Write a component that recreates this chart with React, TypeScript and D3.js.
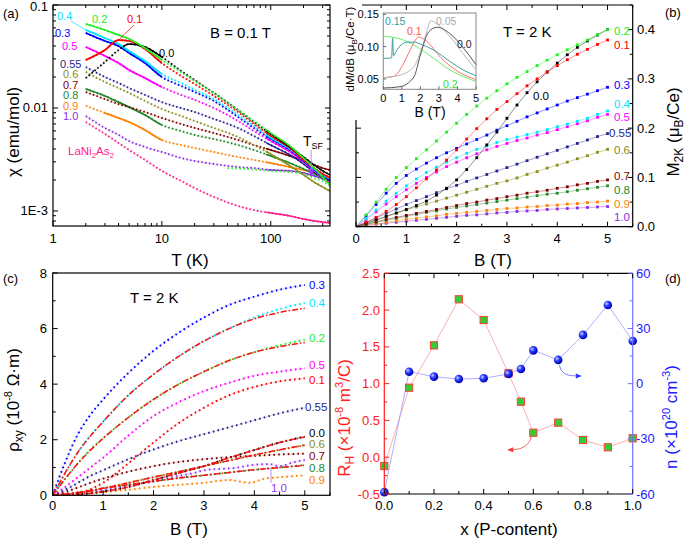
import React from "react";
import * as d3 from "d3";

const FONT = "'Liberation Sans', Arial, Helvetica, sans-serif";

// ================= Panel (a): chi(T), B = 0.1 T =================
const tempA = [2, 3, 4, 5, 7, 10, 15, 20, 30, 50, 70, 100, 150, 200, 250, 300, 350];
const chiX00 = [0.0195, 0.028, 0.0366, 0.0418, 0.0391, 0.0313, 0.0229, 0.0187, 0.014, 0.00957, 0.00731, 0.0056, 0.00418, 0.00334, 0.0028, 0.00245, 0.00224];
const chiX01 = [0.0292, 0.0366, 0.0457, 0.0447, 0.0374, 0.0273, 0.0205, 0.0171, 0.0131, 0.00914, 0.007, 0.00535, 0.00409, 0.00313, 0.00261, 0.00229, 0.00209];
const chiX02 = [0.0654, 0.0572, 0.0511, 0.0468, 0.0383, 0.0292, 0.0224, 0.0183, 0.014, 0.00957, 0.00748, 0.00572, 0.00428, 0.00327, 0.00261, 0.00214, 0.00179];
const chiX03 = [0.0535, 0.0447, 0.04, 0.0342, 0.0273, 0.02, 0.0164, 0.0143, 0.0117, 0.00818, 0.0064, 0.005, 0.00391, 0.00306, 0.0025, 0.00219, 0.002];
const chiX04 = [0.0572, 0.0478, 0.0418, 0.0357, 0.0286, 0.0214, 0.0175, 0.015, 0.0122, 0.00855, 0.00669, 0.00512, 0.004, 0.00313, 0.00256, 0.00224, 0.00205];
const chiX05 = [0.0391, 0.032, 0.0273, 0.0234, 0.0195, 0.016, 0.0134, 0.012, 0.01, 0.00748, 0.00598, 0.00478, 0.00374, 0.00299, 0.00245, 0.00214, 0.00191];
const chiX055 = [0.025, 0.02, 0.0175, 0.0156, 0.0134, 0.0114, 0.01, 0.00914, 0.00782, 0.0064, 0.00535, 0.00437, 0.0035, 0.00286, 0.00239, 0.00214, 0.00196];
const chiX06 = [0.0224, 0.0179, 0.0156, 0.014, 0.0117, 0.00978, 0.00836, 0.00748, 0.0064, 0.00523, 0.00437, 0.00357, 0.00274, 0.00224, 0.00191, 0.00171, 0.00156];
const chiX07 = [0.0143, 0.0122, 0.0109, 0.0102, 0.00914, 0.008, 0.007, 0.0064, 0.00572, 0.00489, 0.00437, 0.00391, 0.00342, 0.00306, 0.0028, 0.00261, 0.0025];
const chiX08 = [0.0153, 0.0131, 0.0114, 0.0102, 0.00855, 0.00684, 0.00598, 0.00547, 0.005, 0.00437, 0.00391, 0.00342, 0.00292, 0.00256, 0.00229, 0.00209, 0.00191];
const chiX09 = [0.0105, 0.00894, 0.008, 0.00731, 0.00611, 0.00489, 0.00437, 0.00409, 0.00374, 0.00334, 0.00313, 0.00292, 0.00266, 0.0025, 0.00234, 0.00224, 0.00214];
const chiX10 = [0.00836, 0.0064, 0.00547, 0.00478, 0.00418, 0.00374, 0.00327, 0.00306, 0.00286, 0.00267, 0.00261, 0.0025, 0.00245, 0.00234, 0.00219, 0.00205, 0.00191];
const chiLaNi = [0.00731, 0.0056, 0.00457, 0.00391, 0.00313, 0.00245, 0.00196, 0.00167, 0.00137, 0.00112, 0.00102, 0.000957, 0.000894, 0.000836, 0.0008, 0.000782, 0.000764];
const tempLime = [40, 60, 100, 150, 200, 250, 300, 350];
const chiLime = [0.00261, 0.00256, 0.00245, 0.00239, 0.00229, 0.00209, 0.00196, 0.00175];

// ================= Panel (b): M(B) at 2 K =================
const fieldB = [0, 0.2, 0.4, 0.6, 0.8, 1.0, 1.2, 1.4, 1.6, 1.8, 2.0, 2.2, 2.4, 2.6, 2.8, 3.0, 3.2, 3.4, 3.6, 3.8, 4.0, 4.2, 4.4, 4.6, 4.8, 5.0];
const magB00 = [0, 0.007, 0.014, 0.021, 0.028, 0.035, 0.043, 0.052, 0.064, 0.078, 0.095, 0.116, 0.14, 0.166, 0.192, 0.22, 0.247, 0.272, 0.294, 0.314, 0.332, 0.349, 0.364, 0.377, 0.389, 0.4];
const magB01 = [0, 0.009, 0.019, 0.031, 0.045, 0.061, 0.079, 0.097, 0.115, 0.135, 0.156, 0.178, 0.199, 0.219, 0.238, 0.254, 0.27, 0.286, 0.3, 0.314, 0.327, 0.339, 0.35, 0.36, 0.37, 0.379];
const magB02 = [0, 0.024, 0.05, 0.076, 0.1, 0.12, 0.138, 0.156, 0.174, 0.192, 0.21, 0.228, 0.245, 0.261, 0.276, 0.29, 0.303, 0.315, 0.327, 0.338, 0.349, 0.359, 0.369, 0.379, 0.39, 0.4];
const magB03 = [0, 0.022, 0.045, 0.068, 0.088, 0.104, 0.117, 0.129, 0.14, 0.15, 0.159, 0.168, 0.177, 0.186, 0.196, 0.205, 0.214, 0.223, 0.231, 0.239, 0.247, 0.255, 0.262, 0.269, 0.276, 0.283];
const magB04 = [0, 0.016, 0.034, 0.052, 0.068, 0.083, 0.097, 0.11, 0.121, 0.131, 0.14, 0.149, 0.157, 0.164, 0.171, 0.177, 0.182, 0.187, 0.192, 0.197, 0.203, 0.208, 0.214, 0.22, 0.228, 0.235];
const magB05 = [0, 0.014, 0.03, 0.046, 0.061, 0.075, 0.088, 0.1, 0.111, 0.122, 0.131, 0.14, 0.148, 0.156, 0.163, 0.169, 0.175, 0.18, 0.186, 0.191, 0.197, 0.203, 0.209, 0.215, 0.222, 0.228];
const magB055 = [0, 0.008, 0.018, 0.027, 0.036, 0.045, 0.053, 0.061, 0.069, 0.077, 0.084, 0.092, 0.099, 0.106, 0.113, 0.12, 0.127, 0.134, 0.141, 0.148, 0.155, 0.162, 0.169, 0.176, 0.183, 0.189];
const magB06 = [0, 0.006, 0.013, 0.02, 0.027, 0.034, 0.04, 0.046, 0.052, 0.058, 0.064, 0.07, 0.076, 0.082, 0.088, 0.093, 0.099, 0.106, 0.112, 0.119, 0.125, 0.131, 0.138, 0.144, 0.151, 0.157];
const magB07 = [0, 0.005, 0.01, 0.015, 0.019, 0.023, 0.027, 0.031, 0.035, 0.039, 0.043, 0.047, 0.05, 0.054, 0.057, 0.061, 0.064, 0.068, 0.071, 0.074, 0.078, 0.081, 0.085, 0.088, 0.092, 0.095];
const magB08 = [0, 0.004, 0.009, 0.013, 0.017, 0.021, 0.025, 0.029, 0.032, 0.036, 0.039, 0.042, 0.045, 0.048, 0.051, 0.054, 0.057, 0.06, 0.063, 0.066, 0.068, 0.071, 0.074, 0.077, 0.08, 0.083];
const magB09 = [0, 0.003, 0.006, 0.009, 0.012, 0.015, 0.017, 0.02, 0.022, 0.025, 0.027, 0.029, 0.031, 0.033, 0.035, 0.037, 0.038, 0.04, 0.041, 0.043, 0.044, 0.046, 0.047, 0.049, 0.05, 0.052];
const magB10 = [0, 0.002, 0.005, 0.007, 0.009, 0.011, 0.013, 0.015, 0.017, 0.019, 0.021, 0.023, 0.024, 0.026, 0.028, 0.029, 0.031, 0.032, 0.033, 0.035, 0.036, 0.037, 0.038, 0.039, 0.04, 0.041];

// inset: dM/dB
const insB015 = [0, 0.3, 0.45, 0.5, 0.55, 0.7, 0.9, 1.3, 1.65, 2.0, 2.7, 3.6, 4.3, 5.0];
const insD015 = [0.082, 0.082, 0.083, 0.113, 0.086, 0.093, 0.101, 0.107, 0.107, 0.104, 0.095, 0.077, 0.064, 0.055];
const insB01 = [0, 0.55, 1.1, 1.4, 1.65, 1.9, 2.35, 3.1, 4.0, 5.0];
const insD01 = [0.052, 0.054, 0.074, 0.092, 0.106, 0.115, 0.108, 0.083, 0.062, 0.049];
const insB02 = [0, 0.9, 1.8, 2.7, 3.6, 5.0];
const insD02 = [0.116, 0.112, 0.1, 0.082, 0.064, 0.046];
const insB005 = [0, 0.9, 1.65, 2.1, 2.35, 2.55, 2.8, 3.6, 4.5, 5.0];
const insD005 = [0.052, 0.056, 0.069, 0.1, 0.124, 0.14, 0.137, 0.115, 0.082, 0.064];
const insB00 = [0, 0.9, 1.65, 2.0, 2.45, 2.9, 3.6, 4.4, 5.0];
const insD00 = [0.036, 0.038, 0.053, 0.087, 0.123, 0.13, 0.12, 0.095, 0.072];

// ================= Panel (c): rho_xy(B) at 2 K =================
const fieldC = [0, 0.25, 0.5, 0.75, 1, 1.5, 2, 2.5, 3, 3.5, 4, 4.5, 5];
const rho03 = [0, 1.2, 2.2, 2.9, 3.45, 4.4, 5.2, 5.85, 6.4, 6.85, 7.15, 7.4, 7.57];
const rho04 = [0, 0.8, 1.55, 2.15, 2.65, 3.6, 4.35, 5.0, 5.55, 6.0, 6.4, 6.7, 6.92];
const rho02 = [0, 0.6, 1.15, 1.65, 2.05, 2.8, 3.45, 4.0, 4.45, 4.85, 5.15, 5.4, 5.6];
const rho05 = [0, 0.3, 0.65, 1.0, 1.35, 2.15, 2.85, 3.35, 3.75, 4.05, 4.3, 4.45, 4.57];
const rho01 = [0, 0.02, 0.08, 0.22, 0.45, 1.15, 1.9, 2.6, 3.15, 3.6, 3.9, 4.1, 4.21];
const rho055 = [0, 0.2, 0.45, 0.7, 0.9, 1.3, 1.65, 1.95, 2.2, 2.45, 2.7, 2.95, 3.15];
const rho00 = [0, 0.0, 0.03, 0.07, 0.13, 0.3, 0.55, 0.8, 1.05, 1.35, 1.63, 1.9, 2.11];
const rho06 = [0, 0.03, 0.08, 0.15, 0.25, 0.45, 0.65, 0.85, 1.05, 1.25, 1.45, 1.63, 1.81];
const rho07 = [0, 0.12, 0.28, 0.45, 0.6, 0.85, 1.05, 1.2, 1.3, 1.37, 1.42, 1.47, 1.5];
const rho08 = [0, 0.05, 0.1, 0.17, 0.25, 0.38, 0.5, 0.62, 0.72, 0.82, 0.92, 1.0, 1.09];
const field10C = [0, 0.25, 0.5, 0.75, 1, 1.5, 2, 2.5, 2.8, 3, 3.3, 3.6, 4, 4.3, 4.5, 4.8, 5];
const rho10 = [0, 0.05, 0.1, 0.13, 0.18, 0.35, 0.5, 0.7, 0.8, 0.9, 0.95, 0.98, 1.1, 1.12, 1.05, 1.2, 1.27];
const field09C = [0, 0.5, 1, 1.5, 2, 2.5, 3, 3.5, 3.9, 4.2, 4.5, 5];
const rho09 = [0, 0.05, 0.12, 0.2, 0.3, 0.38, 0.45, 0.55, 0.45, 0.6, 0.65, 0.72];
const fieldFit = [0, 0.5, 1, 1.5, 2, 2.5, 3, 3.5, 4, 4.5, 5];
const fit04 = [0, 1.55, 2.65, 3.6, 4.35, 5.0, 5.55, 6.0, 6.35, 6.58, 6.73];
const fit02 = [0, 1.15, 2.05, 2.8, 3.45, 4.0, 4.45, 4.85, 5.15, 5.35, 5.5];
const fit00 = [0, 0.03, 0.13, 0.3, 0.55, 0.8, 1.05, 1.35, 1.63, 1.9, 2.1];
const fit06 = [0, 0.08, 0.25, 0.45, 0.65, 0.85, 1.05, 1.25, 1.45, 1.64, 1.8];
const fit08 = [0, 0.1, 0.25, 0.38, 0.5, 0.62, 0.72, 0.82, 0.92, 1.0, 1.08];

// ================= Panel (d): R_H and n vs x =================
const xP = [0, 0.1, 0.2, 0.3, 0.4, 0.5, 0.55, 0.6, 0.7, 0.8, 0.9, 1.0];
const hallRH = [-0.12, 0.945, 1.52, 2.147, 1.865, 1.14, 0.755, 0.333, 0.47, 0.234, 0.135, 0.257];
const carrierN = [-59, 6.5, 3.8, 2.5, 2.9, 5.3, 8.0, 18.1, 12.9, 26.5, 42.8, 23.2];

// ---------- helpers ----------
type Tk = { v: number; major: boolean };
function linTicks(start: number, end: number, step: number, majorEvery: number): Tk[] {
  const out: Tk[] = [];
  const n = Math.round((end - start) / step);
  for (let i = 0; i <= n; i++) {
    const v = +(start + i * step).toFixed(6);
    const r = v / majorEvery;
    out.push({ v, major: Math.abs(r - Math.round(r)) < 1e-6 });
  }
  return out;
}
function logTicks(lo: number, hi: number): Tk[] {
  const out: Tk[] = [];
  for (let e = -5; e <= 3; e++) {
    const d = Math.pow(10, e);
    for (let m = 1; m <= 9; m++) {
      const v = m * d;
      if (v >= lo * 0.9999 && v <= hi * 1.0001) out.push({ v, major: m === 1 });
    }
  }
  return out;
}

function XTicks({ ticks, sc, y, dir, len = 5, minor = 3, color = "#000" }: any) {
  return (
    <g stroke={color} strokeWidth={1}>
      {ticks.map((t: Tk, i: number) => (
        <line key={i} x1={sc(t.v)} x2={sc(t.v)} y1={y} y2={y + dir * (t.major ? len : minor)} />
      ))}
    </g>
  );
}
function YTicks({ ticks, sc, x, dir, len = 5, minor = 3, color = "#000" }: any) {
  return (
    <g stroke={color} strokeWidth={1}>
      {ticks.map((t: Tk, i: number) => (
        <line key={i} y1={sc(t.v)} y2={sc(t.v)} x1={x} x2={x + dir * (t.major ? len : minor)} />
      ))}
    </g>
  );
}

function lineGen(xs: number[], xsc: any, ysc: any, curve: any = d3.curveMonotoneX) {
  return d3
    .line<number>()
    .x((_, i) => xsc(xs[i]))
    .y((d) => ysc(d))
    .curve(curve);
}

// ================= Panel A =================
function PanelA() {
  const L = 53, R = 330, T = 5, B = 226;
  const x = d3.scaleLog().domain([1, 350]).range([L, R]);
  const y = d3.scaleLog().domain([7.15e-4, 0.1]).range([B, T]);
  const g = lineGen(tempA, x, y);
  const gl = lineGen(tempLime, x, y);
  const series = [
    { key: "La", color: "#ff1a8c", chi: chiLaNi, dense: null },
    { key: "1.0", color: "#8a2be2", chi: chiX10, dense: null },
    { key: "0.9", color: "#ff8000", chi: chiX09, dense: [3, 10] },
    { key: "0.8", color: "#22882a", chi: chiX08, dense: [2, 10] },
    { key: "0.7", color: "#800000", chi: chiX07, dense: null },
    { key: "0.6", color: "#8c8c1a", chi: chiX06, dense: null },
    { key: "0.55", color: "#24248f", chi: chiX055, dense: null },
    { key: "0.5", color: "#ff00ff", chi: chiX05, dense: [2, 10] },
    { key: "0.3", color: "#0000ff", chi: chiX03, dense: [2, 10] },
    { key: "0.4", color: "#00e5ff", chi: chiX04, dense: [2, 10] },
    { key: "0.1", color: "#ff0000", chi: chiX01, dense: [2, 10] },
    { key: "0.0", color: "#000000", chi: chiX00, dense: [4.5, 10] },
    { key: "0.2", color: "#22ee22", chi: chiX02, dense: [2, 10] },
  ];
  const xt = logTicks(1, 350);
  const yt = logTicks(7.15e-4, 0.1);
  const tsf = x(235);
  return (
    <g>
      <defs>
        <clipPath id="clipAhi">
          <rect x={x(90)} y={0} width={R - x(90) + 2} height={B} />
        </clipPath>
        {series.map((s, i) =>
          s.dense ? (
            <clipPath id={`clipA${i}`} key={i}>
              <rect x={x(s.dense[0]) - 1} y={0} width={x(s.dense[1]) - x(s.dense[0]) + 1} height={B} />
            </clipPath>
          ) : null
        )}
        <clipPath id="clipAframe">
          <rect x={L} y={T} width={R - L} height={B - T} />
        </clipPath>
      </defs>
      <g clipPath="url(#clipAframe)">
        {series.map((s, i) => (
          <g key={s.key} fill="none" stroke={s.color}>
            <path d={g(s.chi) as string} strokeWidth={0.5} opacity={0.45} />
            <path d={g(s.chi) as string} strokeWidth={1.9} strokeDasharray="1.5 2.3" />
            {s.dense ? <path d={g(s.chi) as string} strokeWidth={1.7} clipPath={`url(#clipA${i})`} /> : null}
            <path d={g(s.chi) as string} strokeWidth={1.4} clipPath="url(#clipAhi)" />
          </g>
        ))}
        <path d={gl(chiLime) as string} fill="none" stroke="#33ee33" strokeWidth={2} strokeDasharray="1.5 2.5" />
      </g>
      {/* leader lines */}
      <line x1={71} y1={21} x2={x(2)} y2={y(chiX04[0])} stroke="#00e5ff" strokeWidth={0.7} />
      <line x1={134} y1={25} x2={x(tempA[2])} y2={y(chiX01[2])} stroke="#ff0000" strokeWidth={0.7} />
      {/* T_SF arrow */}
      <line x1={tsf} y1={150} x2={tsf} y2={171} stroke="#cc88ff" strokeWidth={1} />
      <polygon points={`${tsf - 3},${169} ${tsf + 3},${169} ${tsf},${177}`} fill="#9933ff" />
      {/* frame & ticks */}
      <rect x={L} y={T} width={R - L} height={B - T} fill="none" stroke="#000" strokeWidth={1.2} />
      <XTicks ticks={xt} sc={x} y={B} dir={-1} />
      <XTicks ticks={xt} sc={x} y={T} dir={1} />
      <YTicks ticks={yt} sc={y} x={L} dir={1} />
      <YTicks ticks={yt} sc={y} x={R} dir={-1} />
      <g fontSize={13} textAnchor="middle" fill="#000">
        {[1, 10, 100].map((v) => (
          <text key={v} x={x(v)} y={243}>{v}</text>
        ))}
      </g>
      <g fontSize={13} textAnchor="end" fill="#000">
        <text x={48} y={y(0.1) + 6}>0.1</text>
        <text x={48} y={y(0.01) + 4.5}>0.01</text>
        <text x={48} y={y(0.001) + 4.5}>1E-3</text>
      </g>
      <text x={190} y={266} fontSize={17} textAnchor="middle">T (K)</text>
      <text transform="translate(19,132) rotate(-90)" fontSize={17} textAnchor="middle">χ (emu/mol)</text>
      <text x={3} y={18} fontSize={13}>(a)</text>
      <text x={210} y={38} fontSize={15}>B = 0.1 T</text>
      <text x={303} y={146} fontSize={14}>T<tspan fontSize={9} dy={3}>SF</tspan></text>
      <g fontSize={11}>
        <text x={57} y={20} fill="#00e5ff">0.4</text>
        <text x={92} y={23} fill="#22ee22">0.2</text>
        <text x={127} y={23} fill="#ff0000">0.1</text>
        <text x={55} y={37} fill="#0000ff">0.3</text>
        <text x={62} y={50} fill="#ff00ff">0.5</text>
        <text x={159} y={57} fill="#000">0.0</text>
        <text x={60} y={67.5} fill="#24248f">0.55</text>
        <text x={63} y={78} fill="#8c8c1a">0.6</text>
        <text x={63} y={88.5} fill="#800000">0.7</text>
        <text x={63} y={99} fill="#22882a">0.8</text>
        <text x={63} y={109.5} fill="#ff8000">0.9</text>
        <text x={63} y={120} fill="#8a2be2">1.0</text>
      </g>
      <text x={68} y={155} fontSize={11.5} fill="#ff1a8c">
        LaNi<tspan fontSize={8} dy={3}>2</tspan><tspan dy={-3}>As</tspan><tspan fontSize={8} dy={3}>2</tspan>
      </text>
    </g>
  );
}

// ================= Panel B =================
function PanelB() {
  const L = 356, R = 632.7, T = 5, B = 226.7;
  const x = d3.scaleLinear().domain([0, 5.5]).range([L, R]);
  const y = d3.scaleLinear().domain([0, 0.45]).range([B, T]);
  const g = lineGen(fieldB, x, y, d3.curveLinear);
  const series = [
    { color: "#8a2be2", m: magB10 },
    { color: "#ff8000", m: magB09 },
    { color: "#22882a", m: magB08 },
    { color: "#800000", m: magB07 },
    { color: "#8c8c1a", m: magB06 },
    { color: "#24248f", m: magB055 },
    { color: "#ff00ff", m: magB05 },
    { color: "#00e5ff", m: magB04 },
    { color: "#0000ff", m: magB03 },
    { color: "#000000", m: magB00 },
    { color: "#ff0000", m: magB01 },
    { color: "#22ee22", m: magB02 },
  ];
  const xt = linTicks(0, 5.5, 0.5, 1);
  const yt = linTicks(0, 0.45, 0.05, 0.1);
  const ytLeft = linTicks(0, 0.2, 0.05, 0.1);
  // inset
  const iL = 383.3, iR = 476, iT = 13, iB = 89.3;
  const xi = d3.scaleLinear().domain([0, 5]).range([iL, iR]);
  const yi = d3.scaleLinear().domain([0.034, 0.152]).range([iB, iT]);
  const inset = [
    { b: insB02, d: insD02, c: "#66ee66" },
    { b: insB01, d: insD01, c: "#ff7070" },
    { b: insB015, d: insD015, c: "#3a9d9d" },
    { b: insB005, d: insD005, c: "#b8b8b8" },
    { b: insB00, d: insD00, c: "#555555" },
  ];
  return (
    <g>
      {series.map((s, i) => (
        <g key={i}>
          <path d={g(s.m) as string} fill="none" stroke={s.color} strokeWidth={0.8} opacity={0.55} />
          {s.m.map((v, j) =>
            j === 0 ? null : (
              <rect key={j} x={x(fieldB[j]) - 1.4} y={y(v) - 1.4} width={2.8} height={2.8} fill={s.color} />
            )
          )}
        </g>
      ))}
      {/* frame */}
      <g stroke="#000" strokeWidth={1.2}>
        <line x1={362} y1={T} x2={R} y2={T} />
        <line x1={R} y1={T} x2={R} y2={B} />
        <line x1={L} y1={B} x2={R} y2={B} />
        <line x1={L} y1={120} x2={L} y2={B} />
      </g>
      <XTicks ticks={xt} sc={x} y={B} dir={-1} />
      <XTicks ticks={xt.filter((t) => x(t.v) > 363)} sc={x} y={T} dir={1} />
      <YTicks ticks={yt} sc={y} x={R} dir={-1} />
      <YTicks ticks={ytLeft} sc={y} x={L} dir={1} />
      <g fontSize={13} textAnchor="middle">
        {[0, 1, 2, 3, 4, 5].map((v) => (
          <text key={v} x={x(v)} y={243}>{v}</text>
        ))}
      </g>
      <g fontSize={13}>
        {[0, 0.1, 0.2, 0.3, 0.4].map((v) => (
          <text key={v} x={637} y={y(v) + 4.5}>{v.toFixed(1)}</text>
        ))}
      </g>
      <text x={493} y={266} fontSize={17} textAnchor="middle">B (T)</text>
      <text transform="translate(679,132) rotate(-90)" fontSize={17} textAnchor="middle">
        M<tspan fontSize={12} dy={4}>2K</tspan><tspan dy={-4}> (μ</tspan><tspan fontSize={12} dy={4}>B</tspan><tspan dy={-4}>/Ce)</tspan>
      </text>
      <text x={665} y={17} fontSize={13}>(b)</text>
      <text x={503} y={37} fontSize={15}>T = 2 K</text>
      <g fontSize={11.5}>
        <text x={614} y={35} fill="#22ee22">0.2</text>
        <text x={614} y={48.5} fill="#ff0000">0.1</text>
        <text x={614} y={89} fill="#0000ff">0.3</text>
        <text x={614} y={108} fill="#00e5ff">0.4</text>
        <text x={614} y={121} fill="#ff00ff">0.5</text>
        <text x={609} y={137} fill="#24248f">0.55</text>
        <text x={614} y={154} fill="#8c8c1a">0.6</text>
        <text x={614} y={180} fill="#800000">0.7</text>
        <text x={614} y={193.5} fill="#22882a">0.8</text>
        <text x={614} y={207.5} fill="#ff8000">0.9</text>
        <text x={614} y={221} fill="#8a2be2">1.0</text>
        <text x={533} y={100} fill="#000">0.0</text>
      </g>
      {/* inset */}
      <rect x={iL} y={iT} width={iR - iL} height={iB - iT} fill="#fff" stroke="#888" strokeWidth={1} />
      {inset.map((s, i) => (
        <path key={i} d={lineGen(s.b, xi, yi)(s.d) as string} fill="none" stroke={s.c} strokeWidth={1} />
      ))}
      <XTicks ticks={linTicks(0, 5, 1, 1)} sc={xi} y={iB} dir={-1} len={3} color="#666" />
      <YTicks ticks={linTicks(0.05, 0.15, 0.05, 0.05)} sc={yi} x={iL} dir={1} len={3} color="#666" />
      <g fontSize={11} textAnchor="middle">
        {[0, 1, 2, 3, 4, 5].map((v) => (
          <text key={v} x={xi(v)} y={102}>{v}</text>
        ))}
      </g>
      <g fontSize={11} textAnchor="end">
        {[0.05, 0.1, 0.15].map((v) => (
          <text key={v} x={379} y={yi(v) + 4}>{v.toFixed(2)}</text>
        ))}
      </g>
      <text x={430} y={117} fontSize={14} textAnchor="middle">B (T)</text>
      <text transform="translate(354,49) rotate(-90)" fontSize={11.5} textAnchor="middle">
        dM/dB (μ<tspan fontSize={8} dy={3}>B</tspan><tspan dy={-3}>/Ce·T)</tspan>
      </text>
      <g fontSize={10.5}>
        <text x={385} y={25} fill="#3a9d9d">0.15</text>
        <text x={407} y={35} fill="#ff5050">0.1</text>
        <text x={436} y={25} fill="#aaaaaa">0.05</text>
        <text x={457} y={48} fill="#222">0.0</text>
        <text x={443} y={88} fill="#33dd33">0.2</text>
      </g>
    </g>
  );
}

// ================= Panel C =================
function PanelC() {
  const L = 52.7, R = 330, T = 273, B = 495.3;
  const x = d3.scaleLinear().domain([0, 5.5]).range([L, R]);
  const y = d3.scaleLinear().domain([0, 8]).range([B, T]);
  const data = [
    { r: rho09, f: field09C, c: "#ff8000" },
    { r: rho10, f: field10C, c: "#9933ff" },
    { r: rho08, f: fieldC, c: "#22882a" },
    { r: rho07, f: fieldC, c: "#800000" },
    { r: rho06, f: fieldC, c: "#8c8c1a" },
    { r: rho00, f: fieldC, c: "#000000" },
    { r: rho055, f: fieldC, c: "#24248f" },
    { r: rho01, f: fieldC, c: "#ff0000" },
    { r: rho05, f: fieldC, c: "#ff00ff" },
    { r: rho02, f: fieldC, c: "#22ee22" },
    { r: rho04, f: fieldC, c: "#00e5ff" },
    { r: rho03, f: fieldC, c: "#0000ff" },
  ];
  const fits = [fit04, fit02, fit00, fit06, fit08];
  const gf = lineGen(fieldFit, x, y);
  const xt = linTicks(0, 5.5, 0.5, 1);
  const yt = linTicks(0, 8, 1, 2);
  return (
    <g>
      <defs>
        <clipPath id="clipC">
          <rect x={L} y={T} width={R - L} height={B - T} />
        </clipPath>
      </defs>
      <g clipPath="url(#clipC)">
        {data.map((s, i) => (
          <g key={i} fill="none" stroke={s.c}>
            <path d={lineGen(s.f, x, y)(s.r) as string} strokeWidth={0.5} opacity={0.35} />
            <path d={lineGen(s.f, x, y)(s.r) as string} strokeWidth={2} strokeDasharray="1.6 3.2" />
          </g>
        ))}
        {fits.map((f, i) => (
          <path key={i} d={gf(f) as string} fill="none" stroke="#ff1010" strokeWidth={1.5} strokeDasharray="6 2 1.6 2" />
        ))}
      </g>
      <line x1={x(4.33)} y1={y(0.45)} x2={x(4.33)} y2={y(1.02)} stroke="#b070ff" strokeWidth={0.8} />
      <rect x={L} y={T} width={R - L} height={B - T} fill="none" stroke="#000" strokeWidth={1.2} />
      <XTicks ticks={xt} sc={x} y={B} dir={-1} />
      <YTicks ticks={yt} sc={y} x={L} dir={1} />
      <g fontSize={13} textAnchor="middle">
        {[0, 1, 2, 3, 4, 5].map((v) => (
          <text key={v} x={x(v)} y={510}>{v}</text>
        ))}
      </g>
      <g fontSize={13} textAnchor="end">
        {[0, 2, 4, 6, 8].map((v) => (
          <text key={v} x={47} y={y(v) + 4.5}>{v}</text>
        ))}
      </g>
      <text x={189} y={535} fontSize={17} textAnchor="middle">B (T)</text>
      <text transform="translate(19,400) rotate(-90)" fontSize={17} textAnchor="middle">
        ρ<tspan fontSize={12} dy={4}>xy</tspan><tspan dy={-4}> (10</tspan><tspan fontSize={11} dy={-7}>-8</tspan><tspan dy={7}> Ω·m)</tspan>
      </text>
      <text x={3} y={283} fontSize={13}>(c)</text>
      <text x={130} y={303} fontSize={15}>T = 2 K</text>
      <g fontSize={11.5}>
        <text x={309} y={289} fill="#0000ff">0.3</text>
        <text x={309} y={307} fill="#00e5ff">0.4</text>
        <text x={309} y={342} fill="#22ee22">0.2</text>
        <text x={309} y={369} fill="#ff00ff">0.5</text>
        <text x={309} y={384} fill="#ff0000">0.1</text>
        <text x={305} y={411} fill="#24248f">0.55</text>
        <text x={309} y={437} fill="#000">0.0</text>
        <text x={309} y={448} fill="#8c8c1a">0.6</text>
        <text x={309} y={460} fill="#800000">0.7</text>
        <text x={309} y={472} fill="#22882a">0.8</text>
        <text x={309} y={484} fill="#ff8000">0.9</text>
        <text x={271} y={492} fill="#9933ff">1.0</text>
      </g>
    </g>
  );
}

// ================= Panel D =================
function PanelD() {
  const L = 384.3, R = 632.7, T = 273.3, B = 494;
  const x = d3.scaleLinear().domain([0, 1]).range([L, R]);
  const yl = d3.scaleLinear().domain([-0.5, 2.5]).range([B, T]);
  const yr = d3.scaleLinear().domain([-60, 60]).range([B, T]);
  const gRH = lineGen(xP, x, yl, d3.curveLinear);
  const gN = lineGen(xP, x, yr, d3.curveLinear);
  const xt = linTicks(0, 1, 0.1, 0.2);
  const ylt = linTicks(-0.5, 2.5, 0.25, 0.5);
  const yrt = linTicks(-60, 60, 15, 30);
  const redArrow = `M${x(0.593)},${yl(0.3)} Q${x(0.585)},${yl(0.11)} ${x(0.515)},${yl(0.1)}`;
  const blueArrow = `M${x(0.705)},${yr(10)} Q${x(0.712)},${yr(3.8)} ${x(0.775)},${yr(4.2)}`;
  return (
    <g>
      <defs>
        <radialGradient id="ball" cx="35%" cy="35%" r="65%">
          <stop offset="0%" stopColor="#c8ccff" />
          <stop offset="45%" stopColor="#2a3aff" />
          <stop offset="100%" stopColor="#0000b0" />
        </radialGradient>
      </defs>
      <path d={gRH(hallRH) as string} fill="none" stroke="#ff9a9a" strokeWidth={0.8} />
      <path d={gN(carrierN) as string} fill="none" stroke="#9a9aff" strokeWidth={0.8} />
      <path d={redArrow} fill="none" stroke="#ff5555" strokeWidth={0.9} />
      <polygon points={`${x(0.515) - 5},${yl(0.1)} ${x(0.515) + 1},${yl(0.1) - 2.5} ${x(0.515) + 1},${yl(0.1) + 2.5}`} fill="#ff3333" />
      <path d={blueArrow} fill="none" stroke="#6f6fff" strokeWidth={0.9} />
      <polygon points={`${x(0.775) + 5},${yr(4.2)} ${x(0.775) - 1},${yr(4.2) - 2.5} ${x(0.775) - 1},${yr(4.2) + 2.5}`} fill="#3333ff" />
      {hallRH.map((v, i) => (
        <rect key={i} x={x(xP[i]) - 3.6} y={yl(v) - 3.6} width={7.2} height={7.2} fill="#33cc33" stroke="#ff3b3b" strokeWidth={1} />
      ))}
      {carrierN.map((v, i) => (
        <circle key={i} cx={x(xP[i])} cy={yr(v)} r={4.3} fill="url(#ball)" />
      ))}
      {/* frame */}
      <line x1={L} y1={T} x2={R} y2={T} stroke="#000" strokeWidth={1.2} />
      <line x1={L} y1={B} x2={R} y2={B} stroke="#000" strokeWidth={1.2} />
      <line x1={L} y1={T} x2={L} y2={B} stroke="#ff2020" strokeWidth={1.2} />
      <line x1={R} y1={T} x2={R} y2={B} stroke="#7070ff" strokeWidth={1.2} />
      <XTicks ticks={xt} sc={x} y={B} dir={-1} />
      <XTicks ticks={xt} sc={x} y={T} dir={1} />
      <YTicks ticks={ylt} sc={yl} x={L} dir={1} color="#ff2020" />
      <YTicks ticks={yrt} sc={yr} x={R} dir={-1} color="#7070ff" />
      <g fontSize={13} textAnchor="middle">
        {[0, 0.2, 0.4, 0.6, 0.8, 1.0].map((v) => (
          <text key={v} x={x(v)} y={510}>{v.toFixed(1)}</text>
        ))}
      </g>
      <g fontSize={13} textAnchor="end" fill="#ff2020">
        {[-0.5, 0, 0.5, 1, 1.5, 2, 2.5].map((v) => (
          <text key={v} x={380} y={yl(v) + 4.5}>{v.toFixed(1)}</text>
        ))}
      </g>
      <g fontSize={13} fill="#2020ff">
        {[-60, -30, 0, 30, 60].map((v) => (
          <text key={v} x={636} y={yr(v) + 4.5}>{v}</text>
        ))}
      </g>
      <text x={509} y={535} fontSize={17} textAnchor="middle">x (P-content)</text>
      <text transform="translate(350,418) rotate(-90)" fontSize={17} textAnchor="middle" fill="#ff2020">
        R<tspan fontSize={12} dy={4}>H</tspan><tspan dy={-4}> (×10</tspan><tspan fontSize={11} dy={-7}>-8</tspan><tspan dy={7}> m</tspan><tspan fontSize={11} dy={-7}>3</tspan><tspan dy={7}>/C)</tspan>
      </text>
      <text transform="translate(677,417) rotate(-90)" fontSize={17} textAnchor="middle" fill="#2020ff">
        n (×10<tspan fontSize={11} dy={-7}>20</tspan><tspan dy={7}> cm</tspan><tspan fontSize={11} dy={-7}>-3</tspan><tspan dy={7}>)</tspan>
      </text>
      <text x={665} y={283} fontSize={13}>(d)</text>
    </g>
  );
}

export default function App() {
  return (
    <svg
      width={685}
      height={539}
      viewBox="0 0 685 539"
      style={{ position: "absolute", left: 0, top: 0, background: "#fff" }}
      fontFamily={FONT}
    >
      <rect width={685} height={539} fill="#fff" />
      <PanelA />
      <PanelB />
      <PanelC />
      <PanelD />
    </svg>
  );
}
